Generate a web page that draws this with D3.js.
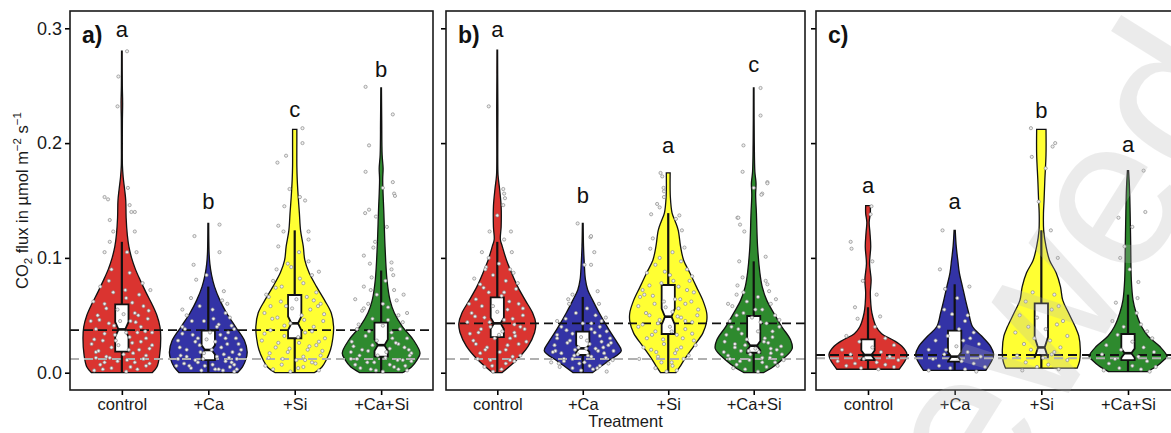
<!DOCTYPE html>
<html>
<head>
<meta charset="utf-8">
<script src="https://cdn.jsdelivr.net/npm/d3@7"></script>
<style>
  body { margin: 0; background: #fff; }
  text { font-family: "Liberation Sans", Arial, sans-serif; }
</style>
</head>
<body>
<script>
// ---- data ----
const categories = ["control", "+Ca", "+Si", "+Ca+Si"];
const panelLabels = ["a)", "b)", "c)"];
const fills = ["#DA3430", "#3333A6", "#FFFF33", "#2E8A2E"];
const yTicks = [0, 0.1, 0.2, 0.3];

// violin outlines: [flux, relative half width]
const violinsA = [
    [[0,0.78],[0.005,0.9],[0.015,0.97],[0.03,1.0],[0.04,0.98],[0.05,0.9],[0.06,0.77],[0.07,0.62],[0.08,0.48],[0.09,0.35],[0.1,0.25],[0.11,0.18],[0.12,0.14],[0.135,0.11],[0.15,0.1],[0.16,0.07],[0.17,0.035],[0.18,0.015],[0.2,0.012],[0.22,0.014],[0.235,0.02],[0.25,0.012],[0.28,0.008]],
    [[0,0.75],[0.005,0.88],[0.012,0.97],[0.018,1.0],[0.028,0.93],[0.04,0.7],[0.052,0.47],[0.063,0.3],[0.075,0.16],[0.085,0.085],[0.095,0.04],[0.105,0.02],[0.13,0.01]],
    [[0,0.5],[0.005,0.7],[0.011,0.81],[0.02,0.92],[0.03,0.98],[0.04,1.0],[0.052,0.94],[0.063,0.77],[0.075,0.56],[0.087,0.37],[0.098,0.26],[0.11,0.22],[0.124,0.15],[0.139,0.12],[0.153,0.09],[0.168,0.065],[0.18,0.055],[0.2,0.055],[0.212,0.055]],
    [[0,0.55],[0.005,0.78],[0.011,0.92],[0.017,1.0],[0.0285,0.83],[0.04,0.55],[0.052,0.34],[0.063,0.23],[0.081,0.15],[0.11,0.1],[0.139,0.07],[0.168,0.04],[0.178,0.05],[0.19,0.025],[0.22,0.015],[0.248,0.008]],
];
const violinsB = [
    [[0,0.12],[0.005,0.3],[0.011,0.5],[0.023,0.8],[0.035,0.97],[0.043,1.0],[0.052,0.92],[0.063,0.73],[0.075,0.53],[0.087,0.37],[0.098,0.24],[0.11,0.13],[0.116,0.08],[0.127,0.1],[0.145,0.1],[0.16,0.06],[0.172,0.02],[0.19,0.012],[0.23,0.015],[0.26,0.01],[0.281,0.008]],
    [[0,0.25],[0.005,0.45],[0.011,0.7],[0.019,1.0],[0.026,0.9],[0.0375,0.68],[0.052,0.43],[0.063,0.26],[0.072,0.13],[0.081,0.07],[0.095,0.04],[0.11,0.02],[0.13,0.01]],
    [[0,0.2],[0.005,0.3],[0.011,0.41],[0.023,0.66],[0.0345,0.9],[0.045,1.0],[0.052,1.0],[0.063,0.9],[0.075,0.73],[0.087,0.56],[0.098,0.4],[0.11,0.32],[0.124,0.26],[0.132,0.18],[0.139,0.1],[0.153,0.055],[0.174,0.05]],
    [[0,0.25],[0.005,0.5],[0.011,0.73],[0.021,1.0],[0.0285,0.96],[0.04,0.73],[0.052,0.52],[0.063,0.34],[0.075,0.22],[0.087,0.16],[0.11,0.1],[0.139,0.07],[0.155,0.05],[0.165,0.06],[0.175,0.03],[0.2,0.015],[0.248,0.008]],
];
const violinsC = [
    [[0.003,0.8],[0.011,0.96],[0.016,1.0],[0.023,0.87],[0.0285,0.64],[0.034,0.35],[0.04,0.21],[0.052,0.1],[0.061,0.07],[0.07,0.06],[0.081,0.08],[0.095,0.04],[0.11,0.07],[0.122,0.05],[0.131,0.03],[0.139,0.06],[0.1455,0.06]],
    [[0.002,0.8],[0.011,0.96],[0.016,1.0],[0.023,0.92],[0.032,0.69],[0.04,0.46],[0.052,0.36],[0.063,0.28],[0.075,0.2],[0.087,0.12],[0.098,0.08],[0.11,0.04],[0.124,0.015]],
    [[0.004,0.92],[0.01,0.98],[0.02,1.0],[0.032,0.96],[0.04,0.87],[0.052,0.7],[0.063,0.55],[0.075,0.49],[0.087,0.38],[0.098,0.21],[0.11,0.12],[0.124,0.06],[0.139,0.055],[0.15,0.07],[0.168,0.09],[0.19,0.12],[0.212,0.12]],
    [[0.001,0.5],[0.006,0.75],[0.011,0.92],[0.014,1.0],[0.023,0.81],[0.032,0.51],[0.04,0.35],[0.052,0.21],[0.063,0.13],[0.081,0.085],[0.11,0.07],[0.139,0.055],[0.16,0.04],[0.176,0.015]],
];

// notched boxes: [q1, median, q3, notch half range, lower whisker, upper whisker]
const boxesA = [[0.0183,0.0377,0.0595,0.0065,0,0.114],[0.011,0.0198,0.0366,0.004,0,0.075],[0.030,0.043,0.0677,0.006,0,0.124],[0.014,0.024,0.0436,0.005,0,0.089]];
const boxesB = [[0.031,0.043,0.0657,0.005,0,0.114],[0.0154,0.0212,0.0357,0.003,0,0.066],[0.0337,0.0488,0.0764,0.007,0,0.139],[0.0174,0.0235,0.0494,0.004,0,0.097]];
const boxesC = [[0.011,0.0154,0.029,0.004,0.003,0.057],[0.0096,0.014,0.0366,0.004,0.002,0.077],[0.0154,0.022,0.0604,0.009,0.004,0.124],[0.011,0.017,0.0337,0.004,0.001,0.068]];

// jittered observations: [offset in category widths, flux]
const pointsA = [
    [[-0.2,0.153],[-0.16,0.151],[0.07,0.161],[0.09,0.146],[0.15,0.14],[0.11,0.14],[-0.14,0.133],[-0.1,0.123],[0.15,0.123],[-0.14,0.114],[-0.2,0.105],[0.06,0.105],[0.17,0.105],[-0.12,0.09],[0.09,0.087],[0.33,0.072],[-0.05,0.232],[0.06,0.28],[-0.04,0.258],[-0.25,0.075],[-0.1,0.07],[0.2,0.068],[0.05,0.065],[-0.2,0.06],[0.25,0.058],[-0.05,0.055],[0.15,0.052],[-0.28,0.05],[0.3,0.047],[0.1,0.045],[-0.15,0.043],[0.22,0.04],[-0.3,0.038],[0.05,0.035],[-0.08,0.033],[0.28,0.03],[-0.22,0.028],[0.12,0.026],[0.35,0.024],[-0.12,0.022],[0.2,0.02],[-0.3,0.018],[0.02,0.016],[-0.18,0.014],[0.25,0.012],[-0.05,0.01],[0.32,0.008],[-0.25,0.007],[0.1,0.005],[-0.12,0.004],[0.18,0.003],[-0.32,0.002],[0.05,0.001],[0.28,0.015],[-0.02,0.045],[0.18,0.035],[-0.35,0.025],[0.08,0.02],[-0.2,0.009],
     [-0.33,0.062],[0.12,0.061],[-0.18,0.056],[0.31,0.054],[0.02,0.051],[-0.26,0.046],[0.16,0.044],[-0.09,0.041],[0.27,0.036],[-0.2,0.034],[0.09,0.031],[-0.32,0.029],[0.22,0.027],[-0.04,0.024],[0.32,0.021],[-0.27,0.019],[0.13,0.017],[-0.14,0.013],[0.06,0.011],[0.28,0.006],[-0.22,0.003],[0.15,0.009],[-0.07,0.028],[0.04,0.072],[-0.15,0.08],[0.24,0.078],[-0.3,0.013],[0.35,0.035],[-0.36,0.045],[0.19,0.05]],
    [[-0.16,0.119],[0.13,0.129],[0.13,0.105],[-0.17,0.094],[-0.02,0.085],[-0.14,0.081],[0.18,0.071],[0.16,0.063],[0.22,0.06],[-0.2,0.065],[-0.1,0.058],[0.05,0.055],[-0.25,0.05],[0.25,0.048],[-0.05,0.045],[0.12,0.042],[-0.3,0.04],[0.3,0.038],[0.02,0.035],[-0.18,0.033],[0.2,0.03],[-0.35,0.028],[0.08,0.027],[0.35,0.025],[-0.1,0.024],[0.15,0.022],[-0.25,0.02],[0.28,0.018],[-0.05,0.017],[-0.32,0.015],[0.1,0.014],[0.33,0.012],[-0.15,0.011],[0.2,0.01],[-0.28,0.008],[0.05,0.007],[0.25,0.005],[-0.2,0.004],[0.12,0.003],[-0.08,0.002],[0.3,0.001],[-0.35,0.012],[0.38,0.02],[-0.12,0.03],[0.23,0.035],
     [-0.33,0.022],[0.18,0.016],[-0.06,0.012],[0.27,0.009],[-0.22,0.006],[0.08,0.003],[-0.3,0.034],[0.32,0.03],[-0.15,0.027],[0.04,0.02],[0.22,0.025],[-0.09,0.018],[0.14,0.033],[-0.25,0.014],[0.36,0.016],[-0.02,0.029],[0.1,0.04],[-0.19,0.045],[0.2,0.052],[-0.3,0.055],[0.27,0.041],[-0.37,0.006],[0.3,0.007],[-0.12,0.009],[0.17,0.002],[-0.27,0.038],[0.06,0.047],[0.33,0.003],[-0.04,0.006],[0.24,0.013]],
    [[-0.2,0.183],[-0.1,0.189],[0.09,0.213],[0.09,0.2],[0.06,0.153],[0.12,0.15],[-0.12,0.145],[-0.06,0.16],[-0.19,0.128],[-0.13,0.123],[0.16,0.123],[0.16,0.116],[-0.19,0.11],[0.16,0.097],[-0.21,0.09],[0.05,0.105],[-0.08,0.095],[0.2,0.085],[-0.25,0.08],[0.1,0.078],[-0.15,0.075],[0.25,0.07],[-0.3,0.066],[0.02,0.064],[0.3,0.06],[-0.1,0.058],[0.18,0.055],[-0.35,0.052],[0.08,0.05],[-0.2,0.048],[0.33,0.045],[-0.05,0.043],[0.22,0.04],[-0.28,0.037],[0.12,0.035],[-0.12,0.032],[0.35,0.03],[-0.38,0.028],[0.05,0.026],[0.25,0.024],[-0.22,0.022],[0.15,0.02],[-0.08,0.018],[0.3,0.015],[-0.3,0.013],[0.02,0.011],[0.2,0.009],[-0.15,0.007],[0.1,0.005],[-0.25,0.003],[0.28,0.002],[-0.05,0.001],
     [-0.33,0.068],[0.14,0.066],[-0.16,0.062],[0.27,0.058],[-0.03,0.056],[0.34,0.051],[-0.26,0.047],[0.11,0.046],[-0.12,0.041],[0.2,0.036],[-0.35,0.034],[0.04,0.031],[0.28,0.027],[-0.19,0.026],[0.17,0.023],[-0.06,0.021],[0.32,0.019],[-0.29,0.017],[0.1,0.014],[-0.14,0.012],[0.24,0.008],[-0.34,0.006],[0.04,0.004],[-0.22,0.074],[0.06,0.082],[0.28,0.088],[-0.04,0.092],[0.22,0.063],[-0.28,0.058],[0.12,0.011]],
    [[-0.18,0.249],[0.135,0.225],[-0.14,0.198],[-0.18,0.175],[0.135,0.166],[0.15,0.156],[0.02,0.161],[-0.14,0.142],[0.16,0.154],[-0.185,0.139],[-0.06,0.136],[0.066,0.127],[-0.07,0.114],[-0.2,0.102],[-0.09,0.109],[0.12,0.096],[-0.13,0.095],[0.12,0.09],[-0.11,0.083],[0.05,0.08],[-0.2,0.075],[0.15,0.072],[-0.05,0.068],[0.18,0.063],[-0.15,0.06],[0.08,0.057],[-0.22,0.054],[0.2,0.05],[-0.1,0.047],[0.25,0.044],[0.02,0.041],[-0.28,0.038],[0.12,0.035],[-0.18,0.032],[0.3,0.03],[-0.05,0.028],[0.2,0.025],[-0.32,0.023],[0.1,0.021],[-0.15,0.019],[0.35,0.017],[-0.25,0.015],[0.05,0.013],[0.25,0.011],[-0.08,0.009],[-0.3,0.007],[0.15,0.005],[-0.12,0.003],[0.3,0.002],[0.02,0.001],[-0.35,0.012],[0.32,0.02],
     [-0.34,0.027],[0.17,0.026],[-0.1,0.024],[0.27,0.022],[-0.22,0.02],[0.06,0.018],[0.33,0.015],[-0.04,0.015],[-0.28,0.012],[0.19,0.011],[-0.16,0.009],[0.1,0.007],[0.28,0.006],[-0.24,0.004],[0.2,0.003],[-0.06,0.002],[0.35,0.01],[-0.35,0.018],[0.13,0.03],[-0.14,0.036],[0.22,0.038],[-0.26,0.042],[0.08,0.046],[0.3,0.052],[-0.2,0.056],[0.02,0.06],[-0.3,0.064],[0.26,0.068],[-0.12,0.072],[0.14,0.085]],
];
const pointsB = [
    [[-0.1,0.232],[0.07,0.16],[0.08,0.156],[0.07,0.146],[0.09,0.152],[0,0.137],[-0.09,0.123],[0.16,0.123],[0.08,0.116],[-0.18,0.105],[0.17,0.105],[-0.13,0.092],[0.19,0.087],[-0.14,0.09],[0.15,0.09],[-0.05,0.085],[0.1,0.08],[-0.2,0.077],[0.22,0.073],[-0.1,0.07],[0.05,0.067],[-0.25,0.064],[0.25,0.06],[-0.05,0.058],[0.12,0.055],[-0.3,0.052],[0.3,0.05],[-0.15,0.048],[0.08,0.046],[-0.35,0.044],[0.2,0.042],[-0.08,0.04],[0.32,0.038],[-0.22,0.035],[0.02,0.033],[0.15,0.03],[-0.28,0.028],[0.25,0.025],[-0.12,0.022],[0.1,0.02],[-0.2,0.017],[0.18,0.014],[-0.08,0.011],[0.1,0.008],[-0.15,0.005],[0.05,0.003],[-0.05,0.001],[0.2,0.01],
     [-0.33,0.06],[0.14,0.062],[-0.18,0.058],[0.3,0.056],[0.0,0.053],[-0.26,0.049],[0.18,0.047],[-0.09,0.044],[0.27,0.04],[-0.19,0.038],[0.06,0.036],[-0.32,0.034],[0.21,0.032],[-0.03,0.03],[0.34,0.027],[-0.25,0.025],[0.12,0.024],[-0.14,0.02],[0.03,0.018],[0.27,0.015],[-0.23,0.012],[0.15,0.011],[-0.06,0.006],[0.08,0.07],[-0.16,0.074],[0.24,0.078],[-0.27,0.082],[0.02,0.095],[-0.1,0.1],[0.2,0.035]],
    [[-0.06,0.13],[0.09,0.118],[0.097,0.119],[0.135,0.105],[0.02,0.094],[0.097,0.094],[-0.12,0.068],[0.174,0.071],[0.19,0.06],[-0.16,0.06],[-0.17,0.064],[0.05,0.056],[-0.08,0.052],[0.15,0.05],[-0.2,0.047],[0.22,0.045],[0,0.043],[-0.25,0.04],[0.1,0.038],[0.28,0.036],[-0.12,0.034],[0.2,0.032],[-0.3,0.03],[0.05,0.028],[-0.18,0.026],[0.3,0.024],[-0.05,0.022],[0.15,0.021],[-0.32,0.019],[0.25,0.017],[-0.1,0.015],[0.1,0.014],[-0.22,0.012],[0.35,0.011],[0.02,0.009],[-0.28,0.008],[0.2,0.006],[-0.12,0.004],[0.12,0.003],[-0.02,0.002],[0.28,0.001],[-0.35,0.018],[0.08,0.025],
     [-0.33,0.024],[0.18,0.019],[-0.06,0.016],[0.27,0.013],[-0.22,0.01],[0.08,0.006],[-0.3,0.033],[0.32,0.03],[-0.15,0.028],[0.04,0.021],[0.22,0.027],[-0.09,0.02],[0.14,0.035],[-0.25,0.017],[0.36,0.019],[-0.02,0.031],[0.1,0.043],[-0.19,0.037],[0.2,0.04],[-0.3,0.045],[0.27,0.048],[-0.37,0.009],[0.3,0.008],[-0.12,0.012],[0.17,0.004],[-0.27,0.005],[0.06,0.015],[0.33,0.026],[-0.04,0.008],[0.24,0.022]],
    [[-0.09,0.174],[-0.07,0.171],[-0.05,0.158],[-0.05,0.153],[-0.1,0.144],[-0.2,0.138],[-0.055,0.161],[-0.13,0.147],[0.13,0.137],[0.09,0.134],[0.16,0.124],[-0.18,0.117],[0.19,0.109],[-0.21,0.108],[0.05,0.105],[-0.1,0.1],[0.15,0.097],[-0.15,0.094],[0.22,0.09],[-0.25,0.087],[0.02,0.085],[0.25,0.08],[-0.08,0.078],[0.12,0.075],[-0.3,0.072],[0.3,0.07],[-0.18,0.067],[0.08,0.064],[-0.05,0.062],[0.2,0.06],[-0.35,0.058],[0.35,0.055],[0.05,0.053],[-0.22,0.05],[0.15,0.048],[-0.1,0.046],[0.28,0.044],[-0.3,0.042],[0.02,0.04],[0.2,0.038],[-0.15,0.036],[0.1,0.033],[-0.25,0.03],[0.3,0.028],[-0.05,0.025],[0.15,0.022],[-0.2,0.02],[0.08,0.017],[-0.12,0.014],[0.18,0.012],[-0.08,0.009],[0.05,0.006],[-0.15,0.004],[0.1,0.002],[-0.02,0.001],
     [-0.33,0.066],[0.14,0.064],[-0.16,0.06],[0.27,0.062],[-0.03,0.057],[0.34,0.05],[-0.26,0.052],[0.11,0.049],[-0.12,0.043],[0.2,0.045],[-0.35,0.04],[0.04,0.036],[0.28,0.034],[-0.19,0.033],[0.17,0.03],[-0.06,0.029],[0.32,0.024],[-0.29,0.022],[0.1,0.02],[-0.14,0.018],[0.24,0.015],[-0.34,0.012],[0.04,0.009],[-0.22,0.076],[0.06,0.08],[0.28,0.084],[-0.04,0.088],[0.22,0.072],[-0.28,0.068],[0.12,0.056]],
    [[0.08,0.248],[0.08,0.224],[-0.12,0.198],[-0.13,0.175],[0.16,0.166],[0.1,0.156],[0,0.161],[-0.19,0.135],[0.16,0.165],[0.09,0.155],[-0.18,0.135],[-0.16,0.129],[-0.11,0.123],[0.14,0.101],[-0.17,0.097],[-0.13,0.083],[0.16,0.077],[-0.19,0.076],[0.18,0.071],[-0.2,0.068],[0.05,0.066],[-0.08,0.062],[0.2,0.06],[-0.25,0.058],[0.1,0.055],[-0.12,0.052],[0.25,0.05],[-0.02,0.048],[-0.28,0.045],[0.15,0.043],[0.3,0.04],[-0.18,0.038],[0.05,0.036],[-0.32,0.033],[0.22,0.031],[-0.08,0.029],[0.12,0.027],[-0.22,0.025],[0.32,0.023],[0.02,0.021],[-0.15,0.019],[0.2,0.017],[-0.3,0.015],[0.1,0.013],[-0.05,0.011],[0.25,0.009],[-0.2,0.007],[0.15,0.005],[-0.1,0.003],[0.05,0.001],
     [-0.34,0.027],[0.17,0.026],[-0.1,0.024],[0.27,0.02],[-0.22,0.022],[0.06,0.018],[0.33,0.016],[-0.04,0.016],[-0.28,0.012],[0.19,0.013],[-0.16,0.01],[0.1,0.009],[0.28,0.006],[-0.24,0.004],[0.2,0.021],[-0.06,0.019],[0.35,0.011],[-0.35,0.018],[0.13,0.03],[-0.14,0.034],[0.22,0.036],[-0.26,0.04],[0.08,0.044],[0.3,0.046],[-0.2,0.05],[0.02,0.055],[-0.3,0.06],[0.26,0.064],[-0.12,0.07],[0.14,0.08]],
];
const pointsC = [
    [[0.04,0.145],[0.03,0.138],[-0.2,0.114],[-0.19,0.108],[0.05,0.097],[-0.06,0.08],[0.14,0.049],[-0.15,0.057],[0.1,0.068],[-0.12,0.047],[0.08,0.04],[-0.25,0.032],[0.2,0.03],[-0.1,0.027],[0.3,0.024],[0.05,0.022],[-0.3,0.02],[0.15,0.018],[-0.2,0.016],[0.25,0.014],[-0.05,0.012],[0.35,0.011],[-0.35,0.01],[0.1,0.009],[-0.15,0.008],[0.2,0.007],[-0.25,0.006],[0.3,0.005],[-0.08,0.004],[0.12,0.003]],
    [[-0.14,0.124],[-0.17,0.09],[0.17,0.075],[-0.11,0.073],[-0.12,0.055],[-0.03,0.051],[0.03,0.065],[0.15,0.05],[0.12,0.045],[-0.18,0.04],[0.05,0.038],[0.22,0.035],[-0.08,0.032],[0.18,0.03],[-0.22,0.028],[0.28,0.025],[0.02,0.023],[-0.3,0.02],[0.15,0.018],[-0.12,0.016],[0.3,0.014],[-0.25,0.012],[0.08,0.01],[0.22,0.008],[-0.18,0.006],[0.35,0.005],[-0.05,0.004],[0.12,0.003],[-0.3,0.002],[0.25,0.001],[-0.1,0.02],[0.1,0.028]],
    [[-0.12,0.213],[0.16,0.2],[0.13,0.197],[-0.11,0.188],[0.05,0.178],[-0.03,0.149],[0.11,0.124],[0.19,0.1],[-0.18,0.062],[0.15,0.068],[-0.1,0.07],[0.2,0.058],[0.12,0.055],[-0.25,0.05],[-0.05,0.048],[0.25,0.045],[0.18,0.042],[-0.15,0.04],[0.05,0.038],[-0.3,0.035],[0.3,0.032],[-0.08,0.03],[0.1,0.028],[-0.2,0.025],[0.22,0.022],[-0.12,0.02],[0.15,0.018],[-0.28,0.015],[0.02,0.013],[0.3,0.011],[-0.18,0.009],[0.08,0.007],[-0.05,0.005],[0.2,0.003],[-0.22,0.002],[0.12,0.016]],
    [[0.18,0.176],[0.2,0.14],[-0.11,0.135],[0.05,0.127],[-0.09,0.1],[0.12,0.079],[-0.14,0.061],[0.11,0.065],[0.02,0.09],[-0.04,0.11],[0.1,0.052],[-0.18,0.045],[0.15,0.042],[-0.05,0.04],[0.22,0.036],[-0.12,0.033],[0.28,0.03],[0.05,0.027],[-0.25,0.024],[0.18,0.022],[-0.08,0.02],[0.3,0.018],[-0.3,0.016],[0.12,0.014],[-0.15,0.012],[0.22,0.01],[-0.22,0.008],[0.05,0.006],[0.32,0.005],[-0.1,0.004],[0.15,0.003],[-0.28,0.002],[0.25,0.001]],
];

// significance letters and the flux level they sit at
const lettersA = ["a", "b", "c", "b"];
const lettersB = ["a", "b", "a", "c"];
const lettersC = ["a", "a", "b", "a"];
const letterLevelA = [0.2924, 0.1426, 0.2227, 0.2576];
const letterLevelB = [0.2924, 0.1478, 0.1916, 0.2622];
const letterLevelC = [0.1568, 0.1423, 0.2216, 0.1925];

// dashed reference lines per panel
const meanLine = [0.0371, 0.043, 0.0154];
const baseLine = [0.0119, 0.012, 0.0125];

// ---- layout ----
const width = 1171;
const height = 433;
const panelTop = 11;
const panelBottom = 390;
const panelLeft = [70, 446, 816];
const panelWidth = [363, 359, 364];

const panels = [
    { violins: violinsA, boxes: boxesA, points: pointsA, letters: lettersA, levels: letterLevelA },
    { violins: violinsB, boxes: boxesB, points: pointsB, letters: lettersB, levels: letterLevelB },
    { violins: violinsC, boxes: boxesC, points: pointsC, letters: lettersC, levels: letterLevelC },
];

const svg = d3
    .select("body")
    .append("svg")
    .attr("width", width)
    .attr("height", height);

const yScale = d3.scaleLinear().domain([0, 0.3]).range([372.7, 28.3]);

panels.forEach((panel, p) => {
    const left = panelLeft[p];
    const right = left + panelWidth[p];
    const xScale = d3.scalePoint().domain(categories).range([left, right]).padding(0.6);
    const step = xScale.step();
    const g = svg.append("g").attr("class", `panel-${p}`);

    // Axes
    const yAxisCall = d3
        .axisLeft(yScale)
        .tickValues(yTicks)
        .tickSize(5)
        .tickFormat(p === 0 ? d3.format(".1f") : "");
    const yAxis = g.append("g").attr("transform", `translate(${left}, 0)`).call(yAxisCall);
    yAxis.select(".domain").remove();
    yAxis.selectAll("line").attr("stroke-width", 1.6);
    yAxis.selectAll("text").attr("font-size", "18px").attr("fill", "#1a1a1a").attr("x", -8);

    const xAxisCall = d3.axisBottom(xScale).tickSize(5);
    const xAxis = g.append("g").attr("transform", `translate(0, ${panelBottom})`).call(xAxisCall);
    xAxis.select(".domain").remove();
    xAxis.selectAll("line").attr("stroke-width", 1.6);
    xAxis.selectAll("text").attr("font-size", "16.5px").attr("fill", "#1a1a1a").attr("y", 8);

    // Violins
    categories.forEach((cat, i) => {
        const cx = xScale(cat);
        const hw = 0.45 * step;
        const area = d3
            .area()
            .curve(d3.curveCatmullRom.alpha(0.5))
            .y((d) => yScale(d[0]))
            .x0((d) => cx - d[1] * hw)
            .x1((d) => cx + d[1] * hw);
        g.append("path")
            .attr("d", area(panel.violins[i]))
            .attr("fill", fills[i])
            .attr("stroke", "#111")
            .attr("stroke-width", 1.3);
    });

    // Dashed lines
    g.append("line")
        .attr("x1", left).attr("x2", right)
        .attr("y1", yScale(baseLine[p])).attr("y2", yScale(baseLine[p]))
        .attr("stroke", "#b0b0b0").attr("stroke-width", 2)
        .attr("stroke-dasharray", "9,5");
    g.append("line")
        .attr("x1", left).attr("x2", right)
        .attr("y1", yScale(meanLine[p])).attr("y2", yScale(meanLine[p]))
        .attr("stroke", "#111").attr("stroke-width", 1.8)
        .attr("stroke-dasharray", "9,5");

    // Notched boxes
    categories.forEach((cat, i) => {
        const cx = xScale(cat);
        const [q1, med, q3, notch, lo, hi] = panel.boxes[i];
        const bw = 0.077 * step;
        const nw = bw * 0.5;
        g.append("line")
            .attr("x1", cx).attr("x2", cx)
            .attr("y1", yScale(lo)).attr("y2", yScale(q1))
            .attr("stroke", "#111").attr("stroke-width", 2.2);
        g.append("line")
            .attr("x1", cx).attr("x2", cx)
            .attr("y1", yScale(q3)).attr("y2", yScale(hi))
            .attr("stroke", "#111").attr("stroke-width", 2.2);
        const outline = [
            [cx - bw, q1], [cx - bw, med - notch], [cx - bw + nw, med], [cx - bw, med + notch], [cx - bw, q3],
            [cx + bw, q3], [cx + bw, med + notch], [cx + bw - nw, med], [cx + bw, med - notch], [cx + bw, q1],
        ];
        g.append("path")
            .attr("d", d3.line().x((d) => d[0]).y((d) => yScale(d[1]))(outline) + "Z")
            .attr("fill", "#fff")
            .attr("stroke", "#111")
            .attr("stroke-width", 1.8)
            .attr("stroke-linejoin", "miter");
        g.append("line")
            .attr("x1", cx - bw + nw).attr("x2", cx + bw - nw)
            .attr("y1", yScale(med)).attr("y2", yScale(med))
            .attr("stroke", "#111").attr("stroke-width", 2.6);
    });

    // Jittered points
    categories.forEach((cat, i) => {
        const cx = xScale(cat);
        g.append("g")
            .selectAll("circle")
            .data(panel.points[i])
            .enter()
            .append("circle")
            .attr("cx", (d) => cx + d[0] * step)
            .attr("cy", (d) => yScale(d[1]))
            .attr("r", 1.6)
            .attr("fill", "#efefef")
            .attr("stroke", "#8a8a8a")
            .attr("stroke-width", 0.7);
    });

    // Significance letters
    categories.forEach((cat, i) => {
        g.append("text")
            .attr("x", xScale(cat))
            .attr("y", yScale(panel.levels[i]))
            .attr("text-anchor", "middle")
            .attr("font-size", "22px")
            .attr("fill", "#111")
            .text(panel.letters[i]);
    });

    // Panel frame and tag
    g.append("rect")
        .attr("x", left).attr("y", panelTop)
        .attr("width", panelWidth[p]).attr("height", panelBottom - panelTop)
        .attr("fill", "none").attr("stroke", "#1a1a1a").attr("stroke-width", 1.6);
    g.append("text")
        .attr("x", left + 12)
        .attr("y", 43)
        .attr("font-size", "23px")
        .attr("font-weight", "bold")
        .attr("fill", "#111")
        .text(panelLabels[p]);
});

//Labels
svg.append("text")
    .attr("x", panelLeft[1] + panelWidth[1] / 2)
    .attr("y", 427)
    .attr("text-anchor", "middle")
    .attr("font-size", "16.5px")
    .attr("fill", "#1a1a1a")
    .text("Treatment");

const yLabel = svg
    .append("text")
    .attr("transform", `translate(28, ${(panelTop + panelBottom) / 2}) rotate(-90)`)
    .attr("text-anchor", "middle")
    .attr("font-size", "16.5px")
    .attr("fill", "#1a1a1a");
yLabel.append("tspan").text("CO");
yLabel.append("tspan").attr("font-size", "11.5px").attr("dy", 4).text("2");
yLabel.append("tspan").attr("dy", -4).text(" flux in \u00B5mol m");
yLabel.append("tspan").attr("font-size", "11.5px").attr("dy", -7).text("\u22122");
yLabel.append("tspan").attr("dy", 7).text(" s");
yLabel.append("tspan").attr("font-size", "11.5px").attr("dy", -7).text("\u22121");

// faint watermark over the right panel
svg.append("text")
    .attr("transform", "translate(805, 815) rotate(-58)")
    .attr("font-size", "215px")
    .attr("fill", "#b4b4b4")
    .attr("opacity", 0.25)
    .text("reviewed");
</script>
</body>
</html>
